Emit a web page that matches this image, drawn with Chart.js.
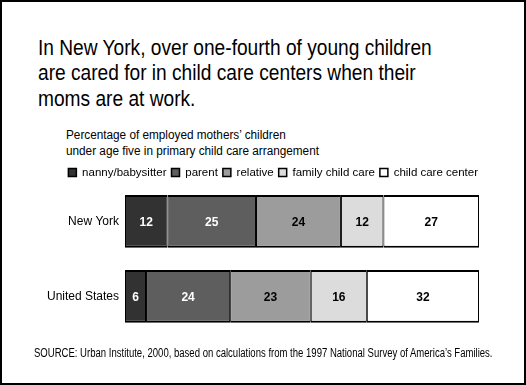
<!DOCTYPE html>
<html>
<head>
<meta charset="utf-8">
<script src="https://cdn.jsdelivr.net/npm/chart.js@4.4.1/dist/chart.umd.min.js"></script>
<style>
    html, body { margin: 0; padding: 0; background: #fff; }
    #frame {
        position: relative; width: 526px; height: 385px;
        box-sizing: border-box; border: 2px solid #000; overflow: hidden;
        font-family: "Liberation Sans", Arial, sans-serif; color: #000;
    }
    #title {
        position: absolute; left: 36px; top: 32.6px;
        font-size: 22px; line-height: 25.5px; white-space: nowrap;
        transform: scaleX(0.87); transform-origin: 0 0;
    }
    #subtitle {
        position: absolute; left: 64px; top: 125px;
        font-size: 12px; line-height: 16px; white-space: nowrap;
        transform: scaleX(0.98); transform-origin: 0 0;
    }
    #source {
        position: absolute; left: 32px; top: 343.5px;
        font-size: 12px; line-height: 14px; white-space: nowrap;
        transform: scaleX(0.795); transform-origin: 0 0;
    }
    #chartBox { position: absolute; left: -2px; top: 156px; width: 526px; height: 189px; }
</style>
</head>
<body>
<div id="frame">
    <div id="title">In New York, over one-fourth of young children<br>are cared for in child care centers when their<br>moms are at work.</div>
    <div id="subtitle">Percentage of employed mothers’ children<br>under age five in primary child care arrangement</div>
    <div id="chartBox"><canvas id="careChart"></canvas></div>
    <div id="source">SOURCE: Urban Institute, 2000, based on calculations from the 1997 National Survey of America’s Families.</div>
</div>

<script>
// ================== DATA ==================
const places = ["New York", "United States"];
const arrangements = ["nanny/babysitter", "parent", "relative", "family child care", "child care center"];

const nannyBabysitter = [12, 6];
const parentCare = [25, 24];
const relativeCare = [24, 23];
const familyChildCare = [12, 16];
const childCareCenter = [27, 32];

const seriesValues = [nannyBabysitter, parentCare, relativeCare, familyChildCare, childCareCenter];

// styles per arrangement
const fillColors = ["#323232", "#5e5e5e", "#9c9c9c", "#dcdcdc", "#ffffff"];
const labelColors = ["#ffffff", "#ffffff", "#000000", "#000000", "#000000"];

// rounded shares don't always add to 100, so scale each row to its total
const rowTotals = places.map((p, i) => seriesValues.reduce((s, arr) => s + arr[i], 0));

const FONT = "'Liberation Sans', Arial, sans-serif";

// ================== VALUE LABELS ==================
const valueLabels = {
    id: "valueLabels",
    afterDatasetsDraw(chart) {
        const ctx = chart.ctx;
        ctx.save();
        ctx.font = "bold 12px " + FONT;
        ctx.textAlign = "center";
        ctx.textBaseline = "middle";
        chart.data.datasets.forEach((ds, d) => {
            chart.getDatasetMeta(d).data.forEach((bar, i) => {
                ctx.fillStyle = labelColors[d];
                ctx.fillText(String(ds.rawValues[i]), (bar.x + bar.base) / 2, bar.y + 1);
            });
        });
        ctx.restore();
    }
};

const ctx = document.getElementById("careChart").getContext("2d");

new Chart(ctx, {
    type: "bar",
    data: {
        labels: places,
        datasets: arrangements.map((name, d) => ({
            label: name,
            rawValues: seriesValues[d],
            data: seriesValues[d].map((v, i) => v / rowTotals[i] * 100),
            backgroundColor: fillColors[d],
            borderColor: "#000000",
            borderWidth: { top: 2, bottom: 2, left: 1, right: 1 },
            borderSkipped: false,
            barPercentage: 0.705,
            categoryPercentage: 1
        }))
    },
    options: {
        indexAxis: "y",
        responsive: true,
        maintainAspectRatio: false,
        animation: false,
        layout: {
            padding: { top: 3.75, left: 10, right: 43, bottom: 0 }
        },
        plugins: {
            tooltip: { enabled: false },
            legend: {
                display: true,
                position: "top",
                align: "end",
                maxHeight: 22.25,
                labels: {
                    font: { size: 11.5, family: FONT },
                    color: "#000000",
                    boxWidth: 8,
                    boxHeight: 8,
                    padding: 5
                }
            }
        },
        scales: {
            x: {
                display: false,
                stacked: true,
                min: 0,
                max: 100
            },
            y: {
                stacked: true,
                afterFit(scale) { scale.width = 115; },
                grid: { display: false, drawTicks: false },
                border: { display: false },
                ticks: {
                    padding: 6,
                    color: "#000000",
                    font: { size: 12, family: FONT }
                }
            },
            // empty strip on the right so the legend can run past the bars
            yRight: {
                type: "category",
                labels: places,
                position: "right",
                afterFit(scale) { scale.width = 4; },
                grid: { display: false, drawTicks: false },
                border: { display: false },
                ticks: { display: false }
            }
        }
    },
    plugins: [valueLabels]
});
</script>
</body>
</html>
